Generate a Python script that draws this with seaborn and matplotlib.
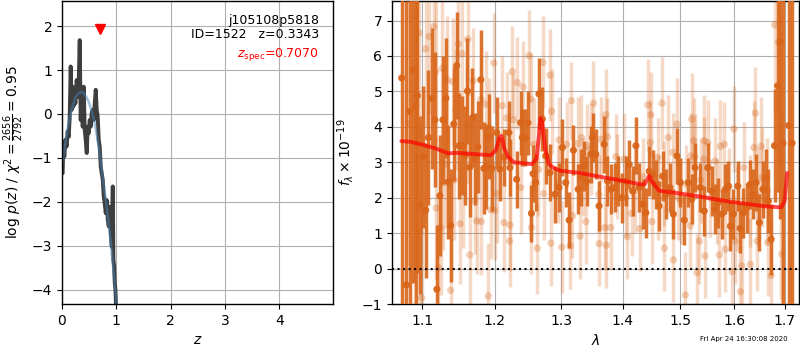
import matplotlib
matplotlib.use("Agg")
import matplotlib.pyplot as plt
import numpy as np
import pandas as pd
import seaborn as sns
from matplotlib.ticker import FixedLocator, FixedFormatter, NullLocator

# ---------------- left panel: redshift probability ----------------
pz_z = [0.012, 0.025, 0.043, 0.061, 0.086, 0.104, 0.123, 0.141, 0.160, 0.178,
        0.197, 0.209, 0.227, 0.246, 0.270, 0.289, 0.307, 0.326, 0.344, 0.363,
        0.381, 0.399, 0.418, 0.436, 0.455, 0.473, 0.492, 0.510, 0.528, 0.547,
        0.565, 0.584, 0.602, 0.621, 0.639, 0.657, 0.676, 0.694, 0.713, 0.731,
        0.750, 0.768, 0.786, 0.805, 0.823, 0.842, 0.860, 0.879, 0.897, 0.916,
        0.934, 0.946, 0.959, 0.971, 0.983, 0.995]
pz_logp = [-1.35, -0.67, -0.97, -0.59, -0.74, -0.40, -0.52, -0.10, 1.08, 0.09,
           0.62, 0.17, 0.55, 0.24, 0.77, 0.39, 0.70, 1.68, -0.14, 0.55,
           -0.29, 0.62, -0.36, -0.59, -0.89, -0.29, -0.44, -0.14, -0.29, 0.02,
           0.09, -0.14, 0.24, 0.55, 0.09, -0.06, -0.59, -0.74, -1.20, -1.35,
           -1.50, -1.88, -2.03, -2.26, -1.96, -2.41, -2.56, -2.11, -2.71, -3.02,
           -1.65, -3.32, -3.47, -3.85, -4.00, -4.38]

fit_z = [0.0, 0.05, 0.10, 0.15, 0.20, 0.25, 0.30, 0.35, 0.40, 0.45, 0.50,
         0.55, 0.60, 0.65, 0.70, 0.75, 0.80, 0.85, 0.90, 0.95, 1.00, 1.02]
fit_logp = [-1.15, -0.75, -0.35, -0.05, 0.20, 0.38, 0.47, 0.50, 0.47, 0.38, 0.25,
            0.05, -0.20, -0.55, -0.95, -1.45, -1.90, -2.40, -2.95, -3.60, -4.25, -4.50]

z_spec = [0.7070]
z_ticks = [0, 1, 2, 3, 4]
logp_ticks = [-4, -3, -2, -1, 0, 1, 2]

# ---------------- right panel: spectrum ----------------
dark_wave = [1.0734, 1.0794, 1.0837, 1.0882, 1.0916, 1.0938, 1.0974, 1.1014, 1.1048, 1.1084,
             1.1128, 1.1170, 1.1197, 1.1237, 1.1278, 1.1319, 1.1352, 1.1385, 1.1426, 1.1467,
             1.1500, 1.1547, 1.1584, 1.1616, 1.1648, 1.1686, 1.1724, 1.1761, 1.1804, 1.1847,
             1.1881, 1.1918, 1.1960,
             1.2032,
             1.2077, 1.2135, 1.2209, 1.2224, 1.2323, 1.2382, 1.2407, 1.2452, 1.2491, 1.2543,
             1.2567, 1.2608, 1.2657, 1.2709, 1.2760, 1.2826, 1.2904, 1.2966, 1.3019, 1.3071,
             1.3124, 1.3193, 1.3268, 1.3309, 1.3353, 1.3406, 1.3470,
             1.3498, 1.3552, 1.3605, 1.3688, 1.3743, 1.3798, 1.3865, 1.3910, 1.3977, 1.4050,
             1.4106, 1.4163, 1.4220, 1.4276, 1.4334, 1.4392, 1.4449, 1.4508, 1.4566, 1.4624,
             1.4684, 1.4743, 1.4813, 1.4873, 1.4939, 1.4998, 1.5071, 1.5143, 1.5205, 1.5266,
             1.5363, 1.5437, 1.5500, 1.5575, 1.5638, 1.5689, 1.5765, 1.5833, 1.5890, 1.5928,
             1.5986, 1.6070, 1.6115, 1.6179, 1.6245, 1.6310, 1.6362, 1.6427, 1.6493, 1.6561,
             1.6627, 1.6673, 1.6727, 1.6795, 1.6856, 1.6911, 1.6966, 1.7082, 1.7153]
dark_flux = [5.38, -0.46, 4.43, 5.60, 4.60, 4.88, 1.80, 3.16, 1.65, 3.70,
             4.80, 4.20, -0.58, 2.06, 4.20, 4.81, 2.45, 1.22, 4.08, 5.73,
             3.47, 3.47, 3.20, 5.01, 2.86, 4.26, 3.10, 3.44, 5.33, 2.83,
             2.87, 3.72, 2.83,
             3.84,
             2.81, 3.14, 3.84, 2.85, 2.52, 4.12, 3.70, 3.70, 4.12, 1.56,
             2.68, 2.43, 4.93, 4.22, 3.18, 2.71, 2.10, 2.29, 3.42, 2.43,
             1.37, 3.34, 2.24, 2.57, 2.90, 2.47, 3.23,
             3.70, 3.23, 1.77, 3.51, 2.47, 2.24, 2.29, 2.47, 2.00, 2.47,
             2.94, 2.19, 3.47, 2.29, 1.82, 1.58, 2.75, 2.66, 2.38, 1.77,
             2.61, 2.10, 2.29, 1.54, 3.18, 2.43, 1.37, 2.43, 1.96, 2.85,
             2.29, 1.63, 2.85, 2.19, 1.68, 1.86, 1.54, 2.24, 2.33, 1.20,
             1.54, 2.33, 1.14, 1.58, 1.72, 2.38, 2.10, 2.43, 1.30, 2.24,
             2.57, 1.91, 0.83, 3.47, 5.16, 6.39, 3.54, 4.04, 3.54]
dark_err = [9.0, 8.0, 7.0, 6.0, 6.0, 5.0, 2.5, 2.0, 1.9, 1.9,
            2.0, 1.9, 1.8, 1.7, 1.8, 1.7, 1.6, 1.6, 1.6, 1.5,
            1.5, 1.4, 1.4, 1.5, 1.4, 1.4, 1.3, 1.3, 1.4, 1.3,
            1.2, 1.2, 1.2,
            1.0,
            0.9, 0.8, 0.9, 0.8, 0.8, 0.9, 0.8, 0.8, 0.9, 0.8,
            0.8, 0.8, 1.0, 0.9, 0.8, 0.8, 0.8, 0.7, 0.8, 0.7,
            0.8, 0.7, 0.7, 0.8, 0.7, 0.7, 0.8,
            0.7, 0.7, 0.7, 0.8, 0.7, 0.7, 0.7, 0.7, 0.7, 0.7,
            0.7, 0.7, 0.8, 0.7, 0.7, 0.7, 0.7, 0.7, 0.7, 0.7,
            0.7, 0.7, 0.7, 0.7, 0.8, 0.7, 0.7, 0.7, 0.7, 0.7,
            0.7, 0.7, 0.7, 0.7, 0.7, 0.7, 0.7, 0.7, 0.7, 0.7,
            0.7, 0.7, 0.7, 0.7, 0.7, 0.7, 0.7, 0.8, 0.8, 0.8,
            0.8, 0.9, 1.0, 1.6, 3.0, 5.0, 8.0, 9.0, 9.0]

light_wave = [1.0820, 1.0903, 1.0908, 1.0961, 1.0969, 1.0995, 1.1048, 1.1093, 1.1155, 1.1182,
              1.1190, 1.1218, 1.1249, 1.1272, 1.1286, 1.1317, 1.1340, 1.1385, 1.1413, 1.1432,
              1.1454, 1.1491, 1.1514, 1.1537, 1.1561, 1.1616, 1.1620, 1.1648, 1.1696, 1.1718,
              1.1746, 1.1804, 1.1810, 1.1875, 1.1909, 1.1923, 1.1946, 1.1990, 1.2000, 1.2039,
              1.2112, 1.2136, 1.2175, 1.2219, 1.2224, 1.2259, 1.2274, 1.2333, 1.2382, 1.2417,
              1.2507, 1.2532, 1.2543, 1.2582, 1.2632, 1.2650, 1.2719, 1.2730, 1.2826, 1.2840,
              1.2852, 1.2950, 1.2966, 1.3008, 1.3087, 1.3139, 1.3161, 1.3177, 1.3266, 1.3298,
              1.3320, 1.3350, 1.3390, 1.3417, 1.3470, 1.3514, 1.3600, 1.3605, 1.3633, 1.3699,
              1.3715, 1.3725, 1.3743, 1.3798, 1.3881, 1.3900, 1.4020, 1.4050, 1.4075, 1.4146,
              1.4200, 1.4288, 1.4350, 1.4426, 1.4466, 1.4478, 1.4496, 1.4597, 1.4610, 1.4672,
              1.4700, 1.4714, 1.4785, 1.4863, 1.4875, 1.4939, 1.4960, 1.5011, 1.5089, 1.5100,
              1.5180, 1.5192, 1.5205, 1.5241, 1.5266, 1.5303, 1.5346, 1.5370, 1.5425, 1.5437,
              1.5450, 1.5500, 1.5550, 1.5638, 1.5665, 1.5719, 1.5738, 1.5814, 1.5827, 1.5900,
              1.5964, 1.5996, 1.6015, 1.6050, 1.6121, 1.6148, 1.6186, 1.6300, 1.6316, 1.6383,
              1.6414, 1.6449, 1.6470, 1.6527, 1.6540, 1.6650, 1.6661, 1.6727, 1.6795, 1.6876,
              1.6916, 1.6944]
light_flux = [4.10, 1.71, 7.14, 6.65, 1.04, -0.82, 6.20, 6.55, 6.83, 5.56,
              1.71, 0.03, 1.16, 5.65, 2.42, 2.95, 5.33, -0.61, 5.27, 2.50,
              4.49, 6.34, 1.27, 6.07, 2.19, 4.03, 6.48, 0.39, 5.30, 1.91,
              1.35, 4.78, 1.33, 4.64, -0.77, 3.98, 1.66, 5.80, 1.65, 2.12,
              4.60, 1.30, 4.25, 0.78, 1.23, 5.56, 4.20, 5.25, 2.29, 5.13,
              6.01, 4.78, 1.16, 3.51, 0.58, 2.80, 5.82, 2.12, 5.46, 0.72,
              4.44, 2.40, 3.63, 0.61, 3.51, 0.64, 4.74, 1.49, 3.53, 0.92,
              3.70, 2.60, 1.33, 3.46, 3.37, 4.67, 2.10, 0.71, 3.65, 1.16,
              4.34, 0.66, 3.72, 1.16, 3.16, 2.60, 3.09, 2.00, 0.90, 1.56,
              2.20, 1.13, 2.60, 4.62, 3.56, 4.34, 1.33, 3.14, 2.00, 4.67,
              2.40, 0.58, 3.70, 3.28, 0.25, 4.08, 2.00, 1.91, -0.74, 2.40,
              1.21, 3.18, 4.22, 3.61, 3.16, -0.11, 0.78, 2.50, 3.09, 3.61,
              0.36, 3.56, 2.00, 3.04, 1.90, 0.39, 3.45, 3.51, 0.55, 2.30,
              -0.08, 3.94, 0.78, 1.70, -0.65, 0.08, 2.85, 1.90, 0.12, 3.42,
              4.39, 0.78, 2.00, 3.45, 2.57, 2.20, 0.74, -0.19, 6.88, 6.39,
              3.14, 0.41]
light_err = [4.0, 4.0, 3.5, 3.0, 3.0, 2.5, 2.2, 2.2, 2.0, 2.0,
             2.0, 2.0, 1.9, 1.9, 1.9, 1.8, 1.8, 1.8, 1.8, 1.7,
             1.7, 1.7, 1.7, 1.6, 1.6, 1.6, 1.6, 1.6, 1.5, 1.5,
             1.5, 1.5, 1.5, 1.5, 1.5, 1.4, 1.4, 1.4, 1.4, 1.4,
             1.4, 1.4, 1.3, 1.3, 1.3, 1.3, 1.3, 1.3, 1.3, 1.3,
             1.3, 1.3, 1.3, 1.3, 1.3, 1.3, 1.3, 1.3, 1.3, 1.2,
             1.2, 1.1, 1.2, 1.3, 1.2, 1.2, 1.1, 1.2, 1.3, 1.2,
             1.2, 1.1, 1.2, 1.2, 1.3, 1.2, 1.1, 1.2, 1.2, 1.2,
             1.3, 1.2, 1.1, 1.2, 1.2, 1.2, 1.3, 1.1, 1.2, 1.2,
             1.2, 1.2, 1.1, 1.3, 1.2, 1.2, 1.2, 1.1, 1.2, 1.3,
             1.2, 1.2, 1.2, 1.1, 1.2, 1.3, 1.2, 1.2, 1.2, 1.1,
             1.2, 1.2, 1.3, 1.2, 1.2, 1.1, 1.2, 1.2, 1.2, 1.3,
             1.2, 1.2, 1.1, 1.2, 1.2, 1.2, 1.3, 1.2, 1.2, 1.1,
             1.2, 1.2, 1.2, 1.2, 1.3, 1.3, 1.3, 1.3, 1.3, 1.3,
             1.3, 1.4, 1.4, 1.4, 1.4, 1.5, 1.5, 1.6, 2.5, 3.5,
             4.0, 4.0]

model_wave = [1.073, 1.085, 1.100, 1.120, 1.135, 1.145, 1.160, 1.180, 1.195, 1.202,
              1.207, 1.210, 1.214, 1.220, 1.228, 1.240, 1.255, 1.262, 1.266, 1.268,
              1.271, 1.275, 1.281, 1.290, 1.300, 1.330, 1.360, 1.400, 1.430, 1.437,
              1.441, 1.445, 1.450, 1.462, 1.500, 1.530, 1.560, 1.600, 1.630, 1.660,
              1.693, 1.700, 1.705]
model_flux = [3.60, 3.58, 3.50, 3.38, 3.25, 3.27, 3.25, 3.22, 3.20, 3.35,
              3.70, 3.75, 3.40, 3.15, 3.00, 2.98, 2.95, 3.10, 3.80, 4.25,
              4.10, 3.40, 2.95, 2.82, 2.76, 2.70, 2.60, 2.48, 2.38, 2.38,
              2.50, 2.62, 2.45, 2.20, 2.12, 2.05, 1.97, 1.87, 1.82, 1.76,
              1.73, 1.90, 2.70]

wave_ticks = [1.1, 1.2, 1.3, 1.4, 1.5, 1.6, 1.7]
wave_tick_labels = ["1.1", "1.2", "1.3", "1.4", "1.5", "1.6", "1.7"]
flux_ticks = [-1, 0, 1, 2, 3, 4, 5, 6, 7]

dark_df = pd.DataFrame({"wave": dark_wave, "flux": dark_flux, "err": dark_err})
light_df = pd.DataFrame({"wave": light_wave, "flux": light_flux, "err": light_err})

# ---------------- style ----------------
sns.set_style("ticks")
plt.rcParams["font.family"] = ["DejaVu Sans"]
plt.rcParams.update({
    "font.size": 10,
    "axes.edgecolor": "k",
    "axes.linewidth": 1.0,
    "xtick.color": "k",
    "ytick.color": "k",
    "axes.labelcolor": "k",
    "text.color": "k",
    "grid.color": "#b0b0b0",
    "grid.linewidth": 0.8,
    "xtick.major.size": 3.5,
    "ytick.major.size": 3.5,
})

orange = "#d9661a"

fig = plt.figure(figsize=(8, 3.5), dpi=100)
ax1 = fig.add_axes([0.0775, 0.131, 0.339, 0.866])
ax2 = fig.add_axes([0.490, 0.131, 0.509, 0.866])

# ---- left panel ----
ax1.grid(True, zorder=0)
ax1.set_axisbelow(True)
sns.lineplot(x=pz_z, y=pz_logp, ax=ax1, color="0.2", lw=2.8, alpha=0.95,
             estimator=None, sort=False)
sns.lineplot(x=fit_z, y=fit_logp, ax=ax1, color="steelblue", lw=1.8, alpha=0.5,
             estimator=None, sort=False)
ax1.plot(z_spec, [1.93], marker="v", color="r", ms=7, ls="none", zorder=5)
ax1.set_xlim(0, 4.99)
ax1.set_ylim(-4.33, 2.57)
ax1.set_xticks(z_ticks)
ax1.set_yticks(logp_ticks)
ax1.set_xlabel(r"$z$")
ax1.set_ylabel(r"$\log\,p(z)$ / $\chi^2=\frac{2656}{2792}=0.95$")
ax1.text(0.948, 0.937, "j105108p5818", ha="right", va="center",
         transform=ax1.transAxes, fontsize=9)
ax1.text(0.948, 0.889, "ID=1522   z=0.3343", ha="right", va="center",
         transform=ax1.transAxes, fontsize=9)
ax1.text(0.948, 0.825, r"$z_\mathrm{spec}$=0.7070", ha="right", va="center",
         transform=ax1.transAxes, fontsize=9, color="r")

# ---- right panel ----
ax2.grid(True, zorder=0)
ax2.set_axisbelow(True)
ax2.errorbar(light_df["wave"], light_df["flux"], yerr=light_df["err"], fmt="none",
             ecolor=orange, alpha=0.25, elinewidth=2.5, zorder=2)
sns.scatterplot(data=light_df, x="wave", y="flux", ax=ax2, color=orange,
                alpha=0.3, s=28, edgecolor="none", zorder=2)
ax2.errorbar(dark_df["wave"], dark_df["flux"], yerr=dark_df["err"], fmt="none",
             ecolor=orange, alpha=0.9, elinewidth=2.5, zorder=3)
sns.scatterplot(data=dark_df, x="wave", y="flux", ax=ax2, color=orange,
                alpha=0.95, s=26, edgecolor="none", zorder=3)
sns.lineplot(x=model_wave, y=model_flux, ax=ax2, color="r", lw=2.8, alpha=0.7,
             estimator=None, sort=False, zorder=6)
ax2.axhline(0, color="k", ls=":", lw=1.5, zorder=7)

ax2.set_xscale("log")
ax2.set_xlim(1.061, 1.730)
ax2.set_ylim(-1.0, 7.55)
ax2.xaxis.set_major_locator(FixedLocator(wave_ticks))
ax2.xaxis.set_major_formatter(FixedFormatter(wave_tick_labels))
ax2.xaxis.set_minor_locator(NullLocator())
ax2.set_yticks(flux_ticks)
ax2.set_xlabel(r"$\lambda$")
ax2.set_ylabel(r"$f_\lambda\times10^{-19}$")

fig.text(0.875, 0.022, "Fri Apr 24 16:30:08 2020", fontsize=5, ha="left", va="bottom")

fig.savefig("out.png", dpi=100)
